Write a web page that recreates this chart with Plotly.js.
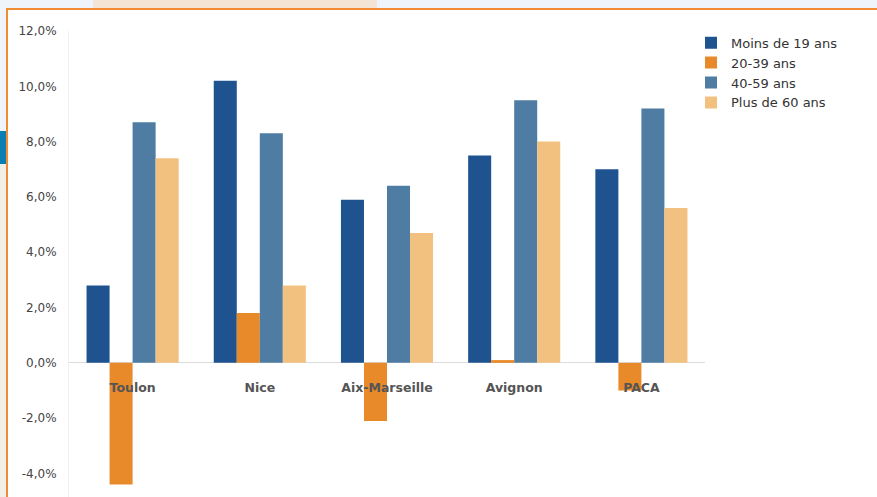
<!DOCTYPE html>
<html>
<head>
<meta charset="utf-8">
<script src="https://cdn.plot.ly/plotly-3.0.1.min.js"></script>
<style>
  html, body { margin: 0; padding: 0; width: 877px; height: 497px; overflow: hidden; background: #eef4f9; }
  #stage { position: relative; width: 877px; height: 497px; }
  .deco { position: absolute; }
  #tab { left: 93px; top: 0; width: 284px; height: 8px; background: #f4e4d6; }
  #sideTeal { left: 0; top: 131px; width: 6px; height: 33px; background: #0a7db3; }
  #sideBeige { left: 0; top: 164px; width: 6px; height: 333px; background: #f2eee8; }
  #frame { left: 6px; top: 8px; width: 880px; height: 500px; background: #ffffff;
           border-left: 2px solid #f28c34; border-top: 2px solid #f28c34; }
  #chart { position: absolute; left: 0; top: 0; width: 877px; height: 497px; }
</style>
</head>
<body>
<div id="stage">
  <div class="deco" id="tab"></div>
  <div class="deco" id="sideTeal"></div>
  <div class="deco" id="sideBeige"></div>
  <div class="deco" id="frame"></div>
  <div id="chart"></div>
</div>
<script>
// Territoires comparés
const territoires = ["Toulon", "Nice", "Aix-Marseille", "Avignon", "PACA"];

// Évolution par tranche d'âge (en %)
const moins19 = [2.8, 10.2, 5.9, 7.5, 7.0];
const ans20a39 = [-4.4, 1.8, -2.1, 0.1, -1.0];
const ans40a59 = [8.7, 8.3, 6.4, 9.5, 9.2];
const plus60 = [7.4, 2.8, 4.7, 8.0, 5.6];

const nomsSeries = ["Moins de 19 ans", "20-39 ans", "40-59 ans", "Plus de 60 ans"];
const couleurs = ["#1f5390", "#e8892a", "#4e7ca3", "#f3c17f"];

// Graduations de l'axe vertical et leurs libellés
const graduations = [-4, -2, 0, 2, 4, 6, 8, 10, 12];
const libellesGraduations = ["-4,0%", "-2,0%", "0,0%", "2,0%", "4,0%", "6,0%", "8,0%", "10,0%", "12,0%"];

const yMin = -4.85, yMax = 12;

const valeurs = [moins19, ans20a39, ans40a59, plus60];
const traces = valeurs.map((v, i) => ({
  type: "bar",
  name: nomsSeries[i],
  x: territoires,
  y: v,
  marker: { color: couleurs[i] },
  hoverinfo: "skip"
}));

const layout = {
  width: 877,
  height: 497,
  margin: { l: 69, r: 172, t: 31, b: 0, pad: 0 },
  paper_bgcolor: "rgba(0,0,0,0)",
  plot_bgcolor: "rgba(0,0,0,0)",
  barmode: "group",
  bargap: 0.276,
  bargroupgap: 0,
  showlegend: true,
  font: { family: "DejaVu Sans, sans-serif", color: "#444" },
  xaxis: {
    type: "category",
    anchor: "free",
    position: (0 - yMin) / (yMax - yMin),
    showline: false,
    showgrid: false,
    zeroline: false,
    ticks: "outside",
    ticklen: 13,
    tickcolor: "rgba(0,0,0,0)",
    tickfont: { family: "DejaVu Sans, sans-serif", size: 12.5, color: "#555", weight: "bold" }
  },
  yaxis: {
    range: [yMin, yMax],
    tickmode: "array",
    tickvals: graduations,
    ticktext: libellesGraduations,
    showgrid: false,
    showline: true,
    linecolor: "#efefef",
    linewidth: 1,
    zeroline: true,
    zerolinecolor: "#dcdcdc",
    zerolinewidth: 1,
    ticks: "outside",
    ticklen: 9,
    tickcolor: "rgba(0,0,0,0)",
    tickfont: { family: "DejaVu Sans, sans-serif", size: 12, color: "#444" }
  },
  legend: {
    x: (691 - 69) / 636,
    xanchor: "left",
    y: 1.007,
    yanchor: "top",
    bgcolor: "rgba(0,0,0,0)",
    borderwidth: 0,
    traceorder: "normal",
    font: { family: "DejaVu Sans, sans-serif", size: 13, color: "#333" }
  }
};

Plotly.newPlot("chart", traces, layout, { displayModeBar: false, staticPlot: true });
</script>
</body>
</html>
